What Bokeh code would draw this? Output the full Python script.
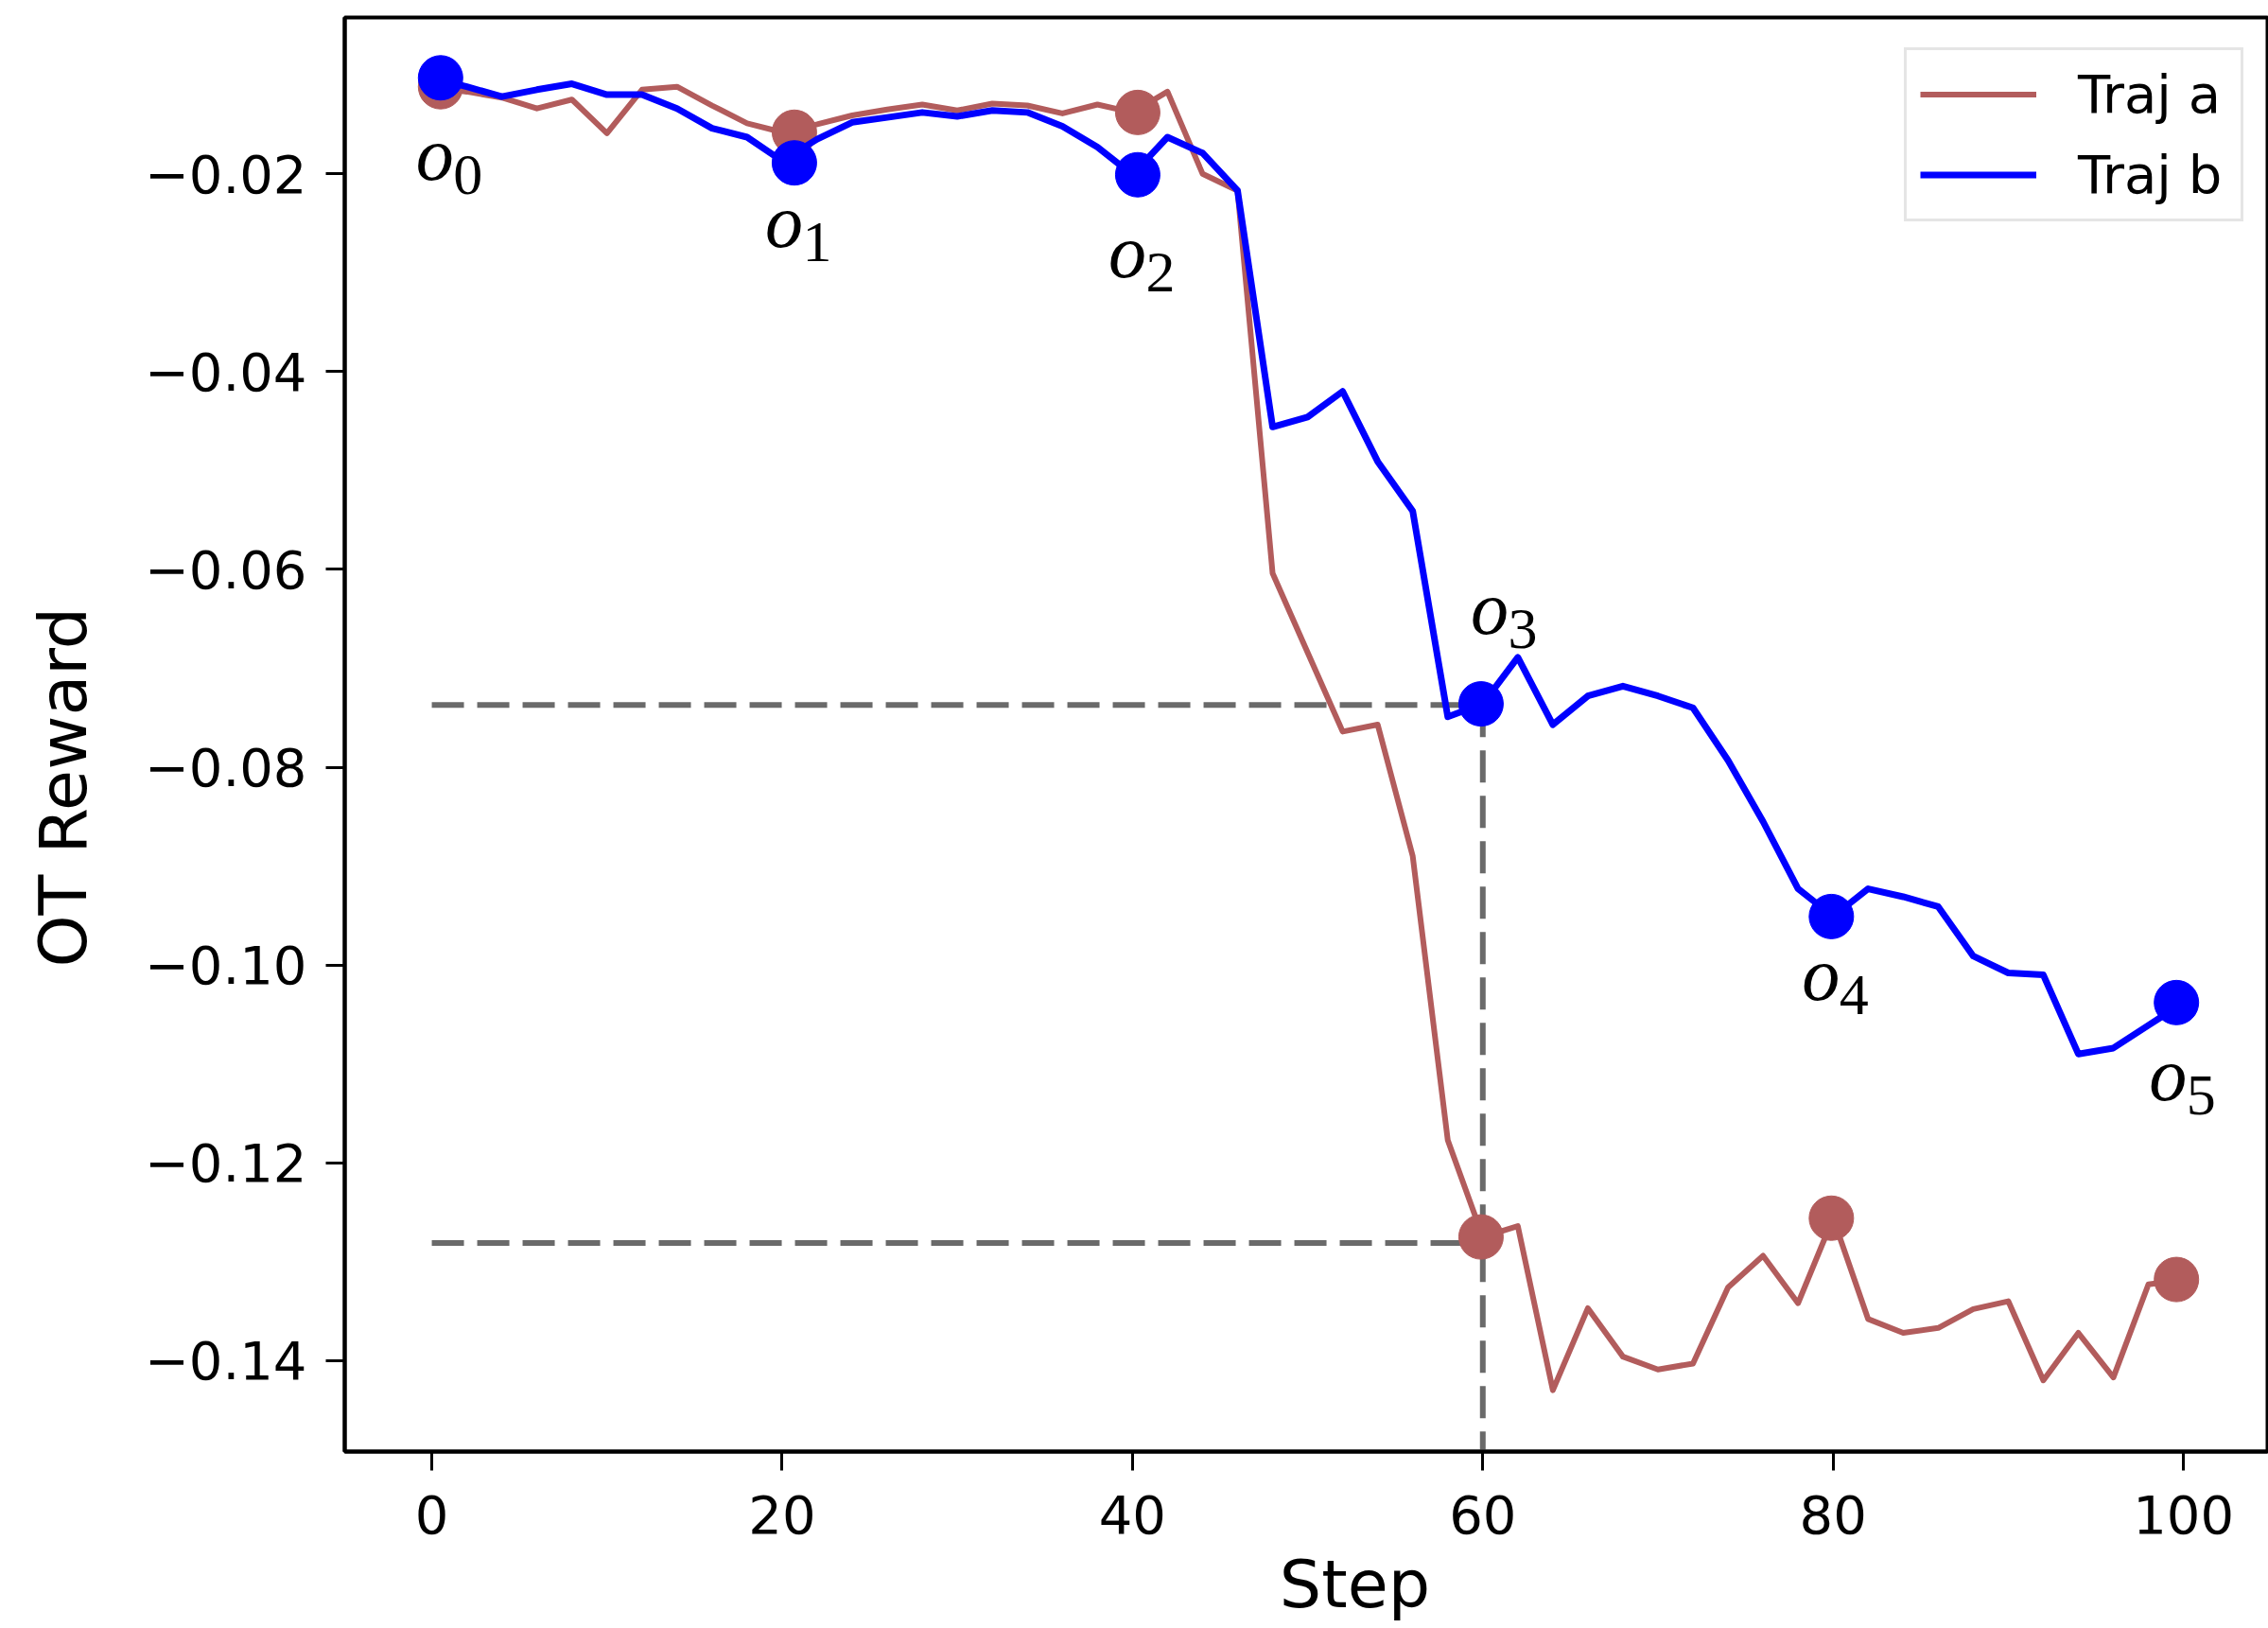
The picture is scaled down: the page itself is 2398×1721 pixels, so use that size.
from bokeh.plotting import figure
from bokeh.models import ColumnDataSource, FixedTicker, Legend, LegendItem, Range1d
from bokeh.core.properties import value
from bokeh.embed import file_html
from bokeh.resources import INLINE

# ---------------- data ----------------
steps = list(range(0, 101, 2))
traj_a = [-0.0112, -0.0117, -0.0123, -0.0134, -0.0125, -0.0159, -0.0115, -0.0112, -0.0131, -0.0149,
          -0.0158, -0.0150, -0.0141, -0.0135, -0.0130, -0.0136, -0.0129, -0.0131, -0.0139, -0.0130,
          -0.0138, -0.0117, -0.0200, -0.0217, -0.0604, -0.0684, -0.0764, -0.0757, -0.0890, -0.1177,
          -0.1275, -0.1264, -0.1430, -0.1347, -0.1396, -0.1409, -0.1403, -0.1326, -0.1294, -0.1342,
          -0.1256, -0.1358, -0.1372, -0.1367, -0.1348, -0.1340, -0.1420, -0.1372, -0.1417, -0.1323,
          -0.1318]
traj_b = [-0.0103, -0.0112, -0.0122, -0.0115, -0.0109, -0.0120, -0.0120, -0.0134, -0.0154, -0.0163,
          -0.0187, -0.0165, -0.0148, -0.0143, -0.0138, -0.0142, -0.0136, -0.0138, -0.0152, -0.0173,
          -0.0201, -0.0163, -0.0179, -0.0217, -0.0456, -0.0446, -0.0420, -0.0491, -0.0541, -0.0749,
          -0.0736, -0.0689, -0.0757, -0.0728, -0.0718, -0.0728, -0.0740, -0.0793, -0.0855, -0.0923,
          -0.0951, -0.0923, -0.0931, -0.0941, -0.0991, -0.1008, -0.1010, -0.1090, -0.1084, -0.1061,
          -0.1038]
marker_steps = [0.5, 20.7, 40.3, 59.9, 79.9, 99.6]
marker_a = [-0.0112, -0.0158, -0.0138, -0.1275, -0.1256, -0.1318]
marker_b = [-0.0103, -0.0189, -0.0201, -0.0736, -0.0951, -0.1038]
point_names = ["o", "o", "o", "o", "o", "o"]
point_subs = ["0", "1", "2", "3", "4", "5"]
ref_step = 60
ref_levels = [-0.0737, -0.1281]
series_names = ["Traj a", "Traj b"]
x_ticks = [0, 20, 40, 60, 80, 100]
x_tick_labels = ["0", "20", "40", "60", "80", "100"]
y_ticks = [-0.14, -0.12, -0.10, -0.08, -0.06, -0.04, -0.02]
y_tick_labels = ["\u22120.14", "\u22120.12", "\u22120.10", "\u22120.08", "\u22120.06", "\u22120.04", "\u22120.02"]
x_title = "Step"
y_title = "OT Reward"

# ---------------- styling ----------------
RED = "#b25c5c"
BLUE = "#0000ff"
Y_START, Y_END = -0.1492, -0.0042
NBSP = "\u00a0"

# label offsets in screen px (relative to blue markers)
lab_dx = [-6, -11, -11, 9, -11, -9]
lab_dy = [63, 44, 63, -119, 43, 58]
o_dx = lab_dx
o_dy = [d + 18 for d in lab_dy]
s_dx = [d + 35 for d in lab_dx]
s_dy = [d + 40 for d in lab_dy]

p = figure(width=2398, height=1721,
           x_range=Range1d(-4.97, 104.80), y_range=Range1d(Y_START, Y_END),
           output_backend="svg", toolbar_location=None,
           min_border_left=364, min_border_right=1, min_border_top=18, min_border_bottom=187,
           background_fill_color="white", border_fill_color="white")
p.grid.visible = False
p.outline_line_color = "black"
p.outline_line_width = 4

# reference dashed lines
ref_src = ColumnDataSource(dict(
    x0=[x_ticks[0], x_ticks[0], ref_step],
    y0=[ref_levels[0], ref_levels[1], ref_levels[0]],
    x1=[ref_step, ref_step, ref_step],
    y1=[ref_levels[0], ref_levels[1], Y_START],
))
p.segment(x0="x0", y0="y0", x1="x1", y1="y1", source=ref_src,
          line_color="#6a6a6a", line_width=6, line_dash="34 14")

# lines and markers
ra = p.line(steps, traj_a, line_color=RED, line_width=6, line_join="round")
p.scatter(marker_steps, marker_a, size=47, fill_color=RED, line_color=RED)
rb = p.line(steps, traj_b, line_color=BLUE, line_width=7, line_join="round")
p.scatter(marker_steps, marker_b, size=47, fill_color=BLUE, line_color=BLUE)

# point labels o_i
lab_src = ColumnDataSource(dict(x=marker_steps, y=marker_b, name=point_names, sub=point_subs,
                                odx=o_dx, ody=o_dy, sdx=s_dx, sdy=s_dy))
p.text(x="x", y="y", text="name", source=lab_src, x_offset="odx", y_offset="ody",
       text_font=value("Liberation Serif"), text_font_style="italic", text_font_size="80px",
       text_align="center", text_baseline="alphabetic", text_color="black")
p.text(x="x", y="y", text="sub", source=lab_src, x_offset="sdx", y_offset="sdy",
       text_font=value("Liberation Serif"), text_font_size="62px",
       text_align="center", text_baseline="alphabetic", text_color="black")

# axes
p.xaxis.ticker = FixedTicker(ticks=x_ticks)
p.xaxis.major_label_overrides = {t: l for t, l in zip(x_ticks, x_tick_labels)}
p.yaxis.ticker = FixedTicker(ticks=y_ticks)
p.yaxis.major_label_overrides = {t: l for t, l in zip(y_ticks, y_tick_labels)}
# titles sit slightly off-centre in the reference: pad with no-break spaces
p.xaxis.axis_label = NBSP * 4 + "\u2009" + x_title
p.yaxis.axis_label = y_title + NBSP * 5
for ax in (p.xaxis, p.yaxis):
    ax.axis_line_color = "black"
    ax.axis_line_width = 4
    ax.major_tick_out = 20
    ax.major_tick_in = 0
    ax.major_tick_line_width = 3
    ax.major_tick_line_color = "black"
    ax.minor_tick_line_color = None
    ax.major_label_text_font = "DejaVu Sans"
    ax.major_label_text_font_size = "56px"
    ax.major_label_text_color = "black"
    ax.axis_label_text_font = "DejaVu Sans"
    ax.axis_label_text_font_size = "70px"
    ax.axis_label_text_font_style = "normal"
    ax.axis_label_text_color = "black"
p.xaxis.major_label_standoff = 26
p.xaxis.axis_label_standoff = 10
p.yaxis.major_label_standoff = 20
p.yaxis.axis_label_standoff = 42

legend = Legend(items=[LegendItem(label=series_names[0], renderers=[ra]),
                       LegendItem(label=series_names[1], renderers=[rb])],
                location=(1649, 1300), orientation="vertical",
                glyph_width=123, glyph_height=65, label_height=65, label_width=158,
                label_standoff=44, padding=14, spacing=20, margin=0,
                label_text_font="DejaVu Sans", label_text_font_size="56px", label_text_color="black",
                border_line_color="#cccccc", border_line_width=3,
                background_fill_color="white", background_fill_alpha=0.8)
p.add_layout(legend)

open("out.html", "w").write(file_html(p, INLINE))
